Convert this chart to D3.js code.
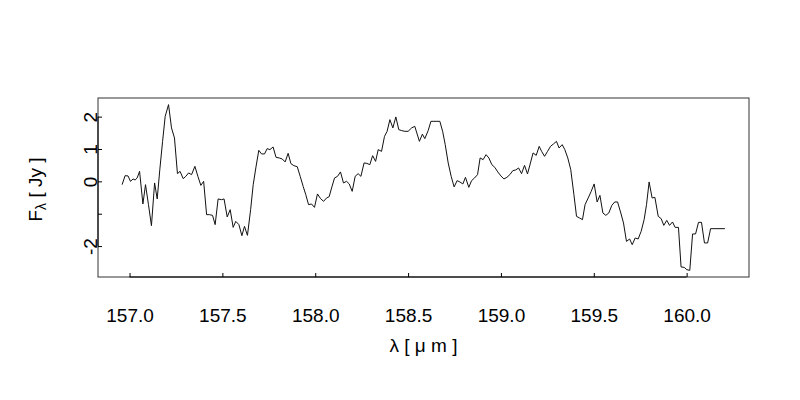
<!DOCTYPE html>
<html>
<head>
<meta charset="utf-8">
<script src="https://cdn.jsdelivr.net/npm/d3@7"></script>
<style>
  html, body { margin: 0; padding: 0; background: #fff; }
  svg { display: block; font-family: "Liberation Sans", Arial, Helvetica, sans-serif; }
</style>
</head>
<body>
<svg id="chart" width="800" height="400"></svg>
<script>
// wavelength in micrometres
const wavelength = [
  156.960, 156.976, 156.992, 157.005, 157.019, 157.030, 157.041, 157.054, 157.072, 157.086,
  157.102, 157.118, 157.135, 157.149, 157.163, 157.178, 157.192, 157.210, 157.226, 157.242,
  157.258, 157.272, 157.289, 157.303, 157.318, 157.334, 157.352, 157.368, 157.384, 157.399,
  157.415, 157.431, 157.447, 157.461, 157.477, 157.495, 157.509, 157.526, 157.542, 157.558,
  157.572, 157.589, 157.605, 157.619, 157.635, 157.652, 157.666, 157.680, 157.696, 157.711,
  157.727, 157.741, 157.756, 157.773, 157.789, 157.806, 157.822, 157.838, 157.854, 157.869,
  157.885, 157.903, 157.919, 157.935, 157.949, 157.964, 157.980, 157.996, 158.012, 158.029,
  158.045, 158.061, 158.075, 158.088, 158.104, 158.120, 158.136, 158.152, 158.169, 158.183,
  158.199, 158.215, 158.231, 158.246, 158.263, 158.278, 158.294, 158.309, 158.325, 158.339,
  158.357, 158.373, 158.387, 158.402, 158.418, 158.434, 158.450, 158.466, 158.483, 158.500,
  158.519, 158.536, 158.561, 158.577, 158.590, 158.608, 158.623, 158.639, 158.655, 158.671,
  158.686, 158.700, 158.716, 158.732, 158.748, 158.764, 158.779, 158.795, 158.809, 158.827,
  158.842, 158.858, 158.874, 158.888, 158.904, 158.920, 158.935, 158.951, 158.967, 158.983,
  159.000, 159.016, 159.032, 159.048, 159.064, 159.080, 159.095, 159.111, 159.127, 159.143,
  159.159, 159.173, 159.190, 159.206, 159.219, 159.235, 159.251, 159.267, 159.283, 159.299,
  159.313, 159.330, 159.344, 159.360, 159.376, 159.393, 159.407, 159.423, 159.439, 159.453,
  159.470, 159.486, 159.502, 159.518, 159.533, 159.549, 159.565, 159.581, 159.597, 159.613,
  159.628, 159.644, 159.660, 159.676, 159.693, 159.707, 159.723, 159.739, 159.755, 159.771,
  159.784, 159.798, 159.814, 159.829, 159.847, 159.863, 159.877, 159.893, 159.908, 159.924,
  159.938, 159.956, 159.970, 159.987, 160.001, 160.017, 160.032, 160.048, 160.064, 160.080,
  160.096, 160.113, 160.129, 160.147, 160.206
];
// flux density in Jy
const flux = [
  -0.102, 0.176, 0.167, 0.000, 0.074, 0.043, 0.105, 0.309, -0.699, -0.102,
  -0.720, -1.369, -0.049, -0.544, 0.362, 1.236, 2.009, 2.371, 1.651, 1.342,
  0.238, 0.309, 0.083, 0.155, 0.260, 0.207, 0.464, 0.155, -0.124, 0.000,
  -1.029, -1.029, -1.051, -1.338, -0.544, -0.566, -0.544, -1.100, -0.875, -1.422,
  -1.236, -1.338, -1.679, -1.391, -1.669, -0.875, -0.102, 0.414, 0.958, 0.847,
  0.847, 1.011, 0.980, 1.063, 0.742, 0.723, 0.692, 0.600, 0.866, 0.547,
  0.485, 0.454, 0.155, -0.155, -0.411, -0.720, -0.699, -0.804, -0.389, -0.535,
  -0.618, -0.513, -0.473, -0.204, 0.105, 0.155, 0.291, -0.049, 0.000, -0.080,
  -0.309, 0.155, 0.238, 0.155, 0.569, 0.556, 0.516, 0.794, 0.618, 0.980,
  0.927, 1.391, 1.546, 1.907, 1.651, 1.991, 1.598, 1.567, 1.546, 1.546,
  1.651, 1.700, 1.236, 1.459, 1.320, 1.567, 1.855, 1.855, 1.855, 1.855,
  1.546, 1.134, 0.569, 0.155, -0.173, 0.022, -0.019, -0.080, 0.124, -0.185,
  0.022, 0.105, 0.207, 0.723, 0.671, 0.825, 0.723, 0.516, 0.433, 0.291,
  0.167, 0.074, 0.124, 0.207, 0.331, 0.352, 0.414, 0.238, 0.495, 0.229,
  0.569, 0.878, 0.804, 1.082, 0.927, 0.773, 0.927, 1.082, 1.156, 1.236,
  1.032, 1.134, 0.980, 0.723, 0.362, -0.411, -1.082, -1.131, -1.184, -0.720,
  -0.513, -0.309, -0.080, -0.637, -0.433, -0.977, -1.051, -0.977, -0.742, -0.637,
  -0.637, -0.946, -1.286, -1.855, -1.781, -1.957, -1.750, -1.781, -1.546, -1.184,
  -0.720, -0.019, -0.513, -0.495, -1.082, -1.153, -1.360, -1.206, -1.360, -1.255,
  -1.422, -1.422, -2.646, -2.658, -2.730, -2.751, -1.626, -1.626, -1.267, -1.267,
  -1.904, -1.904, -1.462, -1.462, -1.462
];
const xTicks = [157.0, 157.5, 158.0, 158.5, 159.0, 159.5, 160.0];
const xTickLabels = ["157.0", "157.5", "158.0", "158.5", "159.0", "159.5", "160.0"];
const yTicks = [-2, -1, 0, 1, 2];
const yTickLabels = ["-2", "", "0", "1", "2"];

(function () {
  const data = wavelength.map((w, i) => ({ w: w, f: flux[i] }));

  const svg = d3.select("#chart");
  const mLeft = 98, mRight = 749, mTop = 98, mBottom = 277;
  const fontSize = 19;

  function padded(ext) {
    const r = ext[1] - ext[0];
    return [ext[0] - 0.04 * r, ext[1] + 0.04 * r];
  }
  const x = d3.scaleLinear().domain(padded(d3.extent(wavelength))).range([mLeft, mRight]);
  const y = d3.scaleLinear().domain(padded(d3.extent(flux))).range([mBottom, mTop]);

  // line
  const line = d3.line().x(d => x(d.w)).y(d => y(d.f));
  svg.append("path")
    .datum(data)
    .attr("d", line)
    .attr("fill", "none")
    .attr("stroke", "#111")
    .attr("stroke-width", 1);

  // box
  svg.append("rect")
    .attr("x", mLeft).attr("y", mTop)
    .attr("width", mRight - mLeft).attr("height", mBottom - mTop)
    .attr("fill", "none").attr("stroke", "#333").attr("stroke-width", 1);

  // x axis (ticks pointing inward)
  const xAxis = d3.axisBottom(x)
    .tickValues(xTicks)
    .tickFormat((d, i) => xTickLabels[i])
    .tickSizeInner(-4).tickSizeOuter(0).tickPadding(32);
  const gx = svg.append("g").attr("transform", `translate(0,${mBottom})`).call(xAxis);
  gx.select(".domain").remove();
  gx.selectAll(".tick line").attr("stroke", "#000");
  gx.selectAll(".tick text").attr("font-size", fontSize).attr("fill", "#000")
    .attr("font-family", "Liberation Sans, Arial, sans-serif");
  gx.append("line")
    .attr("x1", x(xTicks[0])).attr("x2", x(xTicks[xTicks.length - 1]))
    .attr("y1", 0).attr("y2", 0).attr("stroke", "#000");

  // y axis (ticks inward, labels rotated)
  const yAxis = d3.axisLeft(y)
    .tickValues(yTicks)
    .tickFormat((d, i) => yTickLabels[i])
    .tickSizeInner(-4).tickSizeOuter(0);
  const gy = svg.append("g").attr("transform", `translate(${mLeft},0)`).call(yAxis);
  gy.select(".domain").remove();
  gy.selectAll(".tick line").attr("stroke", "#000");
  gy.selectAll(".tick text")
    .attr("x", null).attr("dy", null)
    .attr("transform", "translate(-1,0) rotate(-90)")
    .attr("text-anchor", "middle")
    .attr("font-size", fontSize).attr("fill", "#000")
    .attr("font-family", "Liberation Sans, Arial, sans-serif");
  gy.append("line")
    .attr("x1", 0).attr("x2", 0)
    .attr("y1", y(yTicks[0])).attr("y2", y(yTicks[yTicks.length - 1]))
    .attr("stroke", "#000");

  // x title
  svg.append("text")
    .attr("x", (mLeft + mRight) / 2).attr("y", 352)
    .attr("text-anchor", "middle")
    .attr("font-size", fontSize)
    .text("λ [ μ m ]");

  // y title
  const yt = svg.append("text")
    .attr("transform", `translate(42,${(mTop + mBottom) / 2 + 2}) rotate(-90)`)
    .attr("text-anchor", "middle")
    .attr("font-size", fontSize);
  yt.append("tspan").text("F");
  yt.append("tspan").attr("font-size", 14).attr("dy", 4).text("λ");
  yt.append("tspan").attr("dy", -4).text(" [ Jy ]");
})();
</script>
</body>
</html>
